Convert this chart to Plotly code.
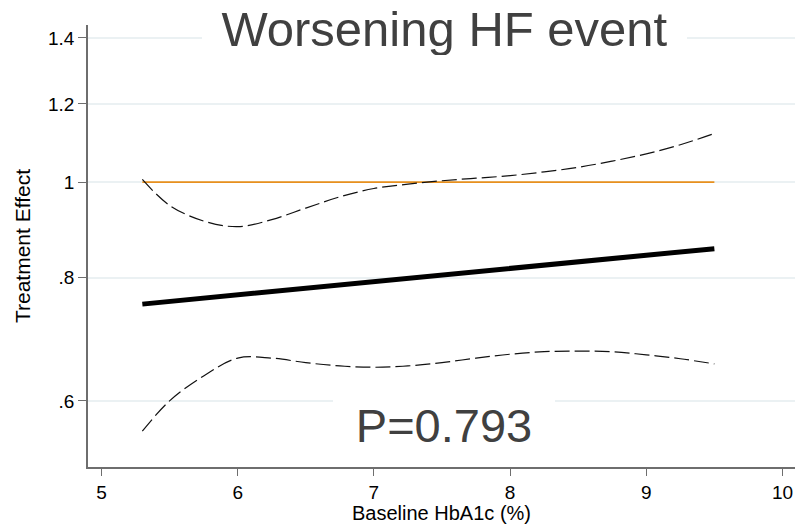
import plotly.graph_objects as go

# Data
x_est = [5.3, 6.0, 7.0, 8.0, 9.0, 9.5]
y_est = [0.752, 0.768, 0.792, 0.817, 0.843, 0.856]

x_ci = [5.3, 5.5, 5.75, 6.0, 6.25, 6.5, 6.75, 7.0, 7.25, 7.5, 7.75, 8.0, 8.25, 8.5, 8.75, 9.0, 9.25, 9.5]
y_upper = [1.006, 0.947, 0.913, 0.901, 0.916, 0.941, 0.966, 0.985, 0.995, 1.003, 1.009, 1.015, 1.024, 1.035, 1.050, 1.068, 1.091, 1.120]
y_lower = [0.559, 0.600, 0.636, 0.663, 0.663, 0.656, 0.651, 0.649, 0.651, 0.656, 0.663, 0.669, 0.673, 0.674, 0.673, 0.668, 0.662, 0.654]

x_ref = [5.3, 9.5]
y_ref = [1.0, 1.0]

x_ticks = [5, 6, 7, 8, 9, 10]
y_ticks = [0.6, 0.8, 1.0, 1.2, 1.4]
y_ticktext = [".6", ".8", "1", "1.2", "1.4"]

title_text = "Worsening HF event"
p_text = "P=0.793"

FONT = "Liberation Sans, Arial, Helvetica, sans-serif"

fig = go.Figure()
fig.add_trace(go.Scatter(x=x_ref, y=y_ref, mode="lines",
                         line=dict(color="#e8901e", width=1.8), hoverinfo="skip"))
fig.add_trace(go.Scatter(x=x_ci, y=y_upper, mode="lines",
                         line=dict(color="#111111", width=1.2, dash="15px,5px", shape="spline"),
                         hoverinfo="skip"))
fig.add_trace(go.Scatter(x=x_ci, y=y_lower, mode="lines",
                         line=dict(color="#111111", width=1.2, dash="15px,5px", shape="spline"),
                         hoverinfo="skip"))
fig.add_trace(go.Scatter(x=x_est, y=y_est, mode="lines",
                         line=dict(color="#000000", width=5), hoverinfo="skip"))

fig.update_layout(
    width=795, height=524,
    margin=dict(l=88, r=0, t=25, b=57, autoexpand=False),
    paper_bgcolor="white", plot_bgcolor="white",
    showlegend=False,
    font=dict(family=FONT, color="#000000", size=19),
    xaxis=dict(
        range=[4.901, 10.092],
        tickvals=x_ticks,
        ticks="outside", ticklen=7, tickwidth=1.2, tickcolor="#6e6e6e",
        showline=True, linecolor="#6e6e6e", linewidth=1.5,
        showgrid=False, zeroline=False,
        automargin=False,
        ticklabeloverflow="allow",
        tickfont=dict(size=19, color="#000000"),
        title=dict(text="Baseline HbA1c (%)", font=dict(size=20, color="#000000"), standoff=3),
    ),
    yaxis=dict(
        type="log",
        range=[-0.2889, 0.1592],
        tickvals=y_ticks, ticktext=y_ticktext,
        ticks="outside", ticklen=8, tickwidth=1.2, tickcolor="#6e6e6e",
        showline=True, linecolor="#6e6e6e", linewidth=1.5,
        showgrid=True, gridcolor="#ebf1f3", gridwidth=1.5,
        zeroline=False,
        automargin=False,
        tickfont=dict(size=19, color="#000000"),
        title=dict(text="Treatment Effect", font=dict(size=21, color="#000000"), standoff=12),
    ),
    annotations=[
        dict(text=title_text, xref="paper", yref="paper", x=0.5038, y=0.9916,
             xanchor="center", yanchor="middle", showarrow=False,
             font=dict(family=FONT, size=49, color="#404040"),
             bgcolor="white", width=485, height=52, borderpad=0, borderwidth=0),
        dict(text=p_text, xref="paper", yref="paper", x=0.503, y=0.095,
             xanchor="center", yanchor="middle", showarrow=False,
             font=dict(family=FONT, size=47, color="#404040"),
             bgcolor="white", width=222, height=52, borderpad=0, borderwidth=0),
    ],
)

fig.write_html("out.html")
